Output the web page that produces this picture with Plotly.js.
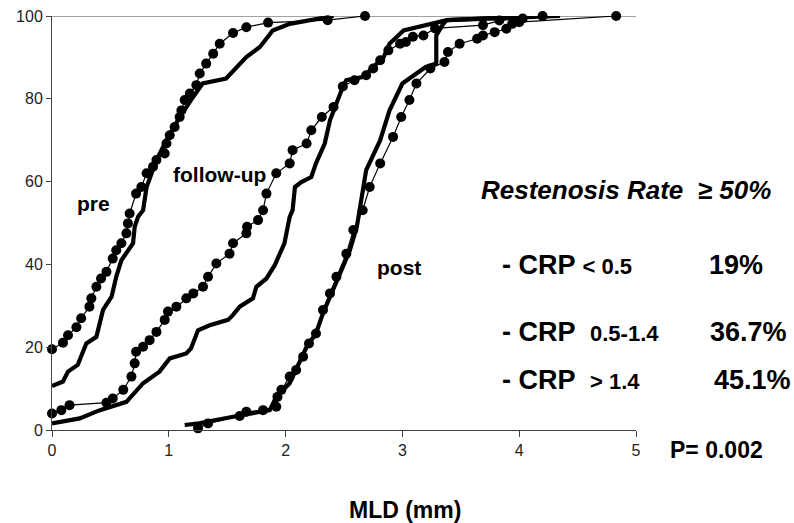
<!DOCTYPE html>
<html>
<head>
<meta charset="utf-8">
<script src="https://cdn.plot.ly/plotly-3.0.1.min.js"></script>
<style>html,body{margin:0;padding:0;background:#fff;}#chart{width:794px;height:523px;}</style>
</head>
<body>
<div id="chart"></div>
<script>
// Cumulative distribution of MLD (mm), % of lesions
var preDotX = [0, 0.094, 0.137, 0.209, 0.25, 0.32, 0.337, 0.38, 0.42, 0.466, 0.52, 0.55, 0.594, 0.637, 0.65, 0.665, 0.72, 0.765, 0.81, 0.865, 0.894, 0.965, 0.98, 1.008, 1.05, 1.093, 1.108, 1.136, 1.18, 1.236, 1.265, 1.32, 1.38, 1.436, 1.55, 1.664, 1.85, 2.36, 2.68];
var preDotY = [19.5, 21.1, 22.9, 24.8, 27, 29.8, 31.8, 34.6, 36.6, 38.2, 41.4, 43.4, 45.1, 47.5, 49.9, 52.3, 57.1, 58.7, 62.0, 63.6, 65.2, 66.8, 69.2, 71.2, 73.2, 75.6, 77.2, 79.7, 81.3, 83.3, 86.1, 88.5, 90.9, 93.3, 95.9, 97.3, 98.4, 99, 100];

var preSolidX = [0, 0.094, 0.137, 0.22, 0.294, 0.38, 0.437, 0.51, 0.55, 0.594, 0.694, 0.708, 0.737, 0.78, 0.81, 0.894, 0.98, 1.093, 1.19, 1.29, 1.49, 1.58, 1.664, 1.78, 1.89, 2.035, 2.41];
var preSolidY = [10.6, 11.7, 14.1, 15.7, 20.9, 22.5, 29, 32.2, 37, 41, 45.1, 49.1, 51.5, 53.1, 58.7, 65.2, 70, 75.6, 79.7, 83.7, 84.9, 87.7, 90.1, 92.5, 96.5, 98.1, 100];

var fuDotX = [0, 0.08, 0.15, 0.466, 0.52, 0.61, 0.68, 0.708, 0.72, 0.78, 0.836, 0.894, 0.965, 0.993, 1.065, 1.15, 1.21, 1.293, 1.336, 1.407, 1.52, 1.55, 1.664, 1.67, 1.764, 1.807, 1.836, 1.92, 2.035, 2.06, 2.18, 2.22, 2.31, 2.41, 2.49, 2.59, 2.69, 2.75, 2.81, 2.88, 2.98, 3.03, 3.09, 3.18, 3.28, 3.69, 3.83, 4.03, 4.2];
var fuDotY = [4.0, 4.8, 6.0, 6.6, 7.6, 9.7, 12.9, 16.1, 18.9, 20.1, 21.7, 23.7, 26.6, 28.6, 29.8, 31.8, 33, 34.6, 37, 40.2, 42.6, 45.1, 47.5, 49.1, 50.7, 53.1, 57.1, 62, 64.4, 67.6, 69.2, 72.4, 75.6, 78, 83.0, 84.5, 85.7, 87.3, 89.3, 91.7, 93.3, 93.7, 95.0, 95.3, 97, 97.8, 98.9, 99.4, 100];

var fuSolidX = [0, 0.237, 0.41, 0.637, 0.78, 0.92, 1.008, 1.15, 1.19, 1.25, 1.35, 1.507, 1.55, 1.607, 1.72, 1.75, 1.836, 1.907, 1.99, 2.02, 2.035, 2.06, 2.08, 2.135, 2.22, 2.26, 2.335, 2.38, 2.41, 2.49, 2.52, 2.67, 2.75, 2.84, 2.89, 3.01, 3.38, 4.35];
var fuSolidY = [1.6, 2.8, 4.8, 6.8, 11.3, 14.1, 17.3, 18.5, 19.7, 24.1, 25.3, 26.6, 27.8, 29.8, 31.8, 34.6, 36.6, 39.8, 45.1, 49.9, 51.5, 53.1, 58.7, 59.9, 61.1, 64.4, 69.2, 74.8, 77.2, 82.9, 84.5, 85.3, 87.7, 90.1, 93.3, 96.5, 99, 100];

var postDotX = [1.25, 1.336, 1.607, 1.664, 1.807, 1.92, 1.93, 1.964, 2.035, 2.09, 2.15, 2.2, 2.26, 2.32, 2.38, 2.435, 2.52, 2.58, 2.66, 2.72, 2.81, 2.92, 2.99, 3.06, 3.12, 3.24, 3.36, 3.39, 3.49, 3.64, 3.69, 3.79, 3.89, 3.94, 4.0, 4.83];
var postDotY = [0.4, 1.6, 3.4, 4.4, 4.8, 5.6, 8.0, 9.7, 12.9, 14.5, 17.7, 20.9, 23.3, 29, 33, 37, 42.6, 48.3, 53.1, 58.7, 64.4, 70.8, 75.6, 79.7, 83.7, 87.3, 88.9, 91.3, 93.3, 94.5, 95.3, 96.1, 96.9, 98.1, 98.5, 100];

var postSolidX = [1.136, 1.26, 1.55, 1.864, 1.92, 2.035, 2.18, 2.26, 2.32, 2.435, 2.49, 2.55, 2.61, 2.69, 2.81, 2.89, 3.0, 3.12, 3.2, 3.29, 3.29, 3.35, 3.38, 3.83, 4.0];
var postSolidY = [1.2, 1.6, 3.2, 4.8, 8.0, 11.3, 20.1, 23.3, 28.2, 35.4, 39.4, 43.4, 49.1, 62.8, 70, 77.2, 83.7, 86.1, 87.7, 88.5, 95.3, 98.1, 99, 99.6, 100];

var xTicks = [0, 1, 2, 3, 4, 5];
var yTicks = [0, 20, 40, 60, 80, 100];

var curveLabels = ['pre', 'follow-up', 'post'];
var curveLabelX = [0.358, 1.436, 2.97];
var curveLabelY = [54.8, 61.8, 39.3];

var rateTitle = 'Restenosis Rate  \u2265 50%';
var crpGroups = ['&lt; 0.5', '0.5-1.4', '&gt; 1.4'];
var crpRates = ['19%', '36.7%', '45.1%'];
var pValue = 'P= 0.002';
var xTitle = 'MLD (mm)';

function dotted(x, y) {
  return {x: x, y: y, type: 'scatter', mode: 'lines+markers', cliponaxis: false,
    line: {color: '#000', width: 1.2}, marker: {color: '#000', size: 10}, hoverinfo: 'skip'};
}
function solid(x, y) {
  return {x: x, y: y, type: 'scatter', mode: 'lines', cliponaxis: false,
    line: {color: '#000', width: 4.2}, hoverinfo: 'skip'};
}

var traces = [
  solid(preSolidX, preSolidY), dotted(preDotX, preDotY),
  solid(fuSolidX, fuSolidY), dotted(fuDotX, fuDotY),
  solid(postSolidX, postSolidY), dotted(postDotX, postDotY)
];

var F = 'Liberation Sans, Arial, Helvetica, sans-serif';
var ann = [];
for (var i = 0; i < curveLabels.length; i++) {
  ann.push({x: curveLabelX[i], y: curveLabelY[i], xref: 'x', yref: 'y', text: '<b>' + curveLabels[i] + '</b>',
    showarrow: false, font: {family: F, size: 21, color: '#000'}});
}
ann.push({x: 0.7312, y: 0.5797, xref: 'paper', yref: 'paper', xanchor: 'left', yanchor: 'middle',
  text: '<b><i>' + rateTitle + '</i></b>', showarrow: false, font: {family: F, size: 26, color: '#000'}});
var rowY = [0.3986, 0.2367, 0.1208];
var rateX = [1.1216, 1.1233, 1.1301];
for (var j = 0; j < crpGroups.length; j++) {
  var gap = j === 0 ? ' ' : '  ';
  ann.push({x: 0.7671, y: rowY[j], xref: 'paper', yref: 'paper', xanchor: 'left', yanchor: 'middle',
    text: '<b>- CRP' + gap + '<span style="font-size:22px">' + crpGroups[j] + '</span></b>',
    showarrow: false, font: {family: F, size: 27, color: '#000'}});
  ann.push({x: rateX[j], y: rowY[j], xref: 'paper', yref: 'paper', xanchor: 'left', yanchor: 'middle',
    text: '<b>' + crpRates[j] + '</b>', showarrow: false, font: {family: F, size: 27, color: '#000'}});
}
ann.push({x: 1.0548, y: -0.0483, xref: 'paper', yref: 'paper', xanchor: 'left', yanchor: 'middle',
  text: '<b>' + pValue + '</b>', showarrow: false, font: {family: F, size: 23, color: '#000'}});
ann.push({x: 0.6045, y: -0.1932, xref: 'paper', yref: 'paper', xanchor: 'center', yanchor: 'middle',
  text: '<b>' + xTitle + '</b>', showarrow: false, font: {family: F, size: 23, color: '#000'}});

var layout = {
  width: 794, height: 523,
  margin: {l: 52, r: 158, t: 16, b: 93, autoexpand: false},
  paper_bgcolor: '#fff', plot_bgcolor: '#fff',
  showlegend: false,
  font: {family: F, color: '#222'},
  xaxis: {range: [0, 5], tickvals: xTicks, ticks: 'outside', ticklen: 6, tickwidth: 1,
    tickcolor: '#444', showline: true, linecolor: '#444', linewidth: 1, showgrid: false, zeroline: false,
    tickfont: {size: 16, color: '#222'}},
  yaxis: {range: [0, 100], tickvals: yTicks, ticks: 'outside', ticklen: 5, tickwidth: 1,
    tickcolor: '#444', showline: true, linecolor: '#444', linewidth: 1, showgrid: false, zeroline: false,
    tickfont: {size: 16, color: '#222'}},
  shapes: [{type: 'line', xref: 'x', yref: 'y', x0: 0, x1: 5, y0: 100, y1: 100, line: {color: '#444', width: 1}, layer: 'below'}],
  annotations: ann
};

Plotly.newPlot('chart', traces, layout, {displayModeBar: false, staticPlot: true});
</script>
</body>
</html>
